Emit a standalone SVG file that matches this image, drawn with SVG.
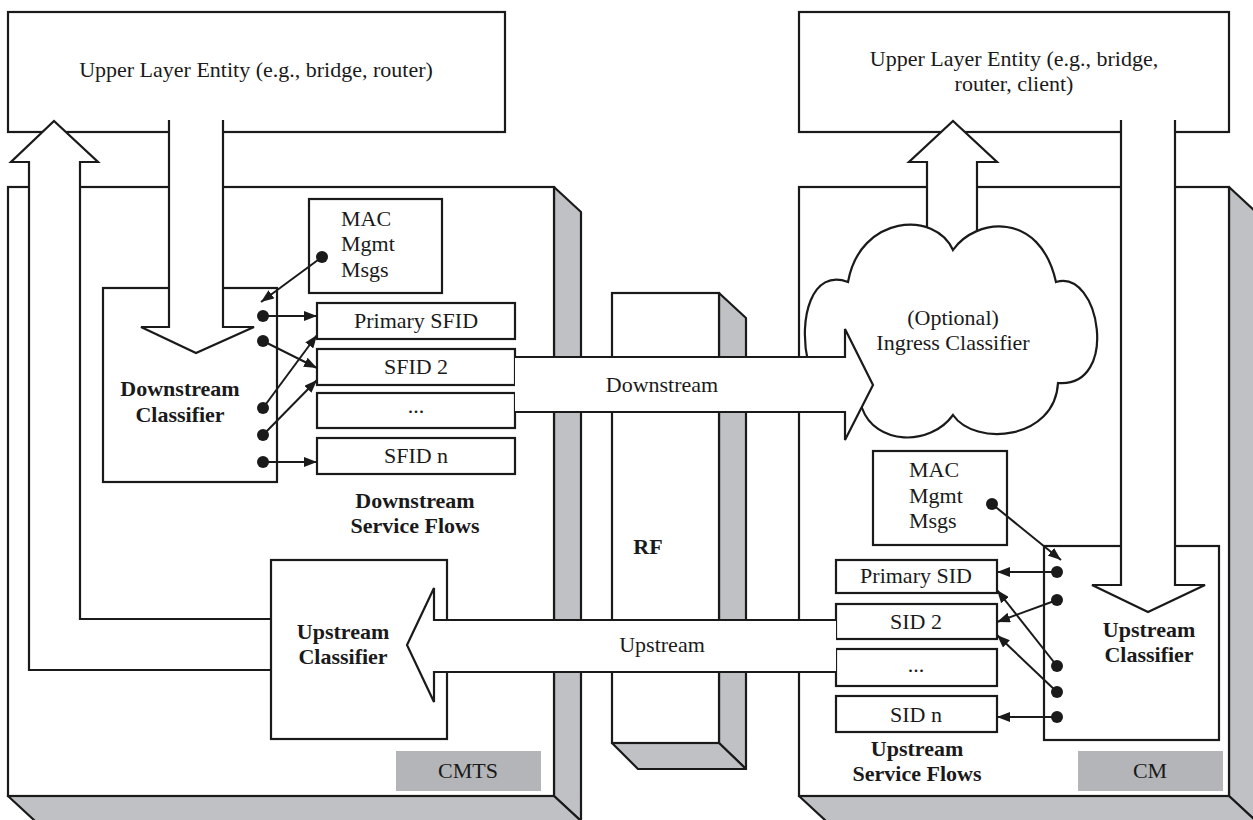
<svg xmlns="http://www.w3.org/2000/svg" width="1253" height="820" viewBox="0 0 1253 820">
<style>
.b{fill:#fff;stroke:#1a1a1a;stroke-width:2.2}
.s{fill:#c0c1c4;stroke:#1a1a1a;stroke-width:2.2;stroke-linejoin:round}
.lb{fill:#b4b5b9;stroke:none}
.ar{fill:#fff;stroke:#1a1a1a;stroke-width:2.2;stroke-linejoin:miter}
.ln{stroke:#1a1a1a;stroke-width:2;fill:none}
.dot{fill:#1a1a1a}
text{font-family:'Liberation Serif','Times New Roman',Times,serif;font-size:22px;fill:#1a1a1a}
.c{text-anchor:middle}
.bd{font-weight:bold}
</style>
<defs>
<marker id="ah" viewBox="0 0 13 10" refX="13" refY="5" markerWidth="13" markerHeight="10" markerUnits="userSpaceOnUse" orient="auto">
<path d="M0,0 L13,5 L0,10 z" fill="#1a1a1a"/>
</marker>
</defs>
<rect width="1253" height="820" fill="#fff"/>

<g id="ule-left"><rect class="b" x="8" y="12" width="497" height="120"/></g>
<g id="ule-right"><rect class="b" x="799" y="12" width="430" height="120"/></g>

<g id="cmts">
<polygon class="s" points="554,187 581,212 581,821 554,796"/>
<polygon class="s" points="8,796 554,796 581,821 35,821"/>
<rect class="b" x="8" y="187" width="546" height="609"/>
<rect class="lb" x="396" y="751" width="145" height="40"/>
</g>
<g id="cm">
<polygon class="s" points="1229,187 1256,212 1256,821 1229,796"/>
<polygon class="s" points="799,796 1229,796 1256,821 826,821"/>
<rect class="b" x="799" y="187" width="430" height="609"/>
<rect class="lb" x="1078" y="751" width="145" height="40"/>
</g>
<g id="rf">
<polygon class="s" points="719,293 746,318 746,769 719,743"/>
<polygon class="s" points="612,743 719,743 746,769 638,769"/>
<rect class="b" x="612" y="293" width="107" height="450"/>
</g>

<g id="mac-left"><rect class="b" x="309" y="199" width="133" height="94"/></g>
<g id="mac-right"><rect class="b" x="873" y="451" width="134" height="94"/></g>
<g id="ds-classifier"><rect class="b" x="103" y="288" width="174" height="194"/></g>
<g id="sfid-primary"><rect class="b" x="317" y="303" width="198" height="36"/></g>
<g id="sfid-2"><rect class="b" x="317" y="349" width="198" height="36"/></g>
<g id="sfid-dots"><rect class="b" x="317" y="393" width="198" height="35"/></g>
<g id="sfid-n"><rect class="b" x="317" y="438" width="198" height="36"/></g>
<g id="sid-primary"><rect class="b" x="836" y="560" width="161" height="33"/></g>
<g id="sid-2"><rect class="b" x="836" y="604" width="161" height="35"/></g>
<g id="sid-dots"><rect class="b" x="836" y="649" width="161" height="37"/></g>
<g id="sid-n"><rect class="b" x="836" y="696" width="161" height="36"/></g>

<g id="return-path">
<path class="ar" d="M271,670 L29,670 L29,162 L11,162 L54,121 L98,162 L80,162 L80,619 L271,619"/>
</g>
<g id="us-classifier-cmts"><rect class="b" x="271" y="560" width="176" height="179"/></g>
<g id="us-classifier-cm"><rect class="b" x="1044" y="546" width="175" height="194"/></g>

<g id="up-arrow-cm">
<path class="ar" d="M927,252 L927,162 L909,162 L953,121 L997,162 L977,162 L977,252"/>
</g>
<g id="ingress-classifier">
<path class="b" d="M953,250 C975,218 1040,210 1056,282 C1100,268 1120,388 1058,383 C1055,440 975,447 953,415 C930,447 875,445 862,408 C840,402 812,395 808,362 C798,318 812,268 848,282 C860,215 935,210 953,250 Z"/>
</g>
<g id="down-arrow-cmts">
<path class="ar" d="M169,120 L169,327 L141,327 L196,353 L254,327 L223,327 L223,120"/>
</g>
<g id="down-arrow-cm">
<path class="ar" d="M1121,120 L1121,585 L1092,585 L1148,612 L1205,585 L1175,585 L1175,120"/>
</g>
<g id="downstream-arrow">
<path class="ar" d="M515,357 L845,357 L845,329 L873,385 L845,440 L845,412 L515,412"/>
</g>
<g id="upstream-arrow">
<path class="ar" d="M836,620 L434,620 L434,588 L407,645 L434,702 L434,672 L836,672"/>
</g>

<g id="connectors">
<line class="ln" x1="322" y1="257" x2="261" y2="302" marker-end="url(#ah)"/>
<line class="ln" x1="263" y1="316" x2="317" y2="316" marker-end="url(#ah)"/>
<line class="ln" x1="263" y1="341" x2="317" y2="368" marker-end="url(#ah)"/>
<line class="ln" x1="263" y1="408" x2="317" y2="335" marker-end="url(#ah)"/>
<line class="ln" x1="263" y1="435" x2="317" y2="380" marker-end="url(#ah)"/>
<line class="ln" x1="263" y1="462" x2="317" y2="462" marker-end="url(#ah)"/>
<line class="ln" x1="992" y1="504" x2="1061" y2="560" marker-end="url(#ah)"/>
<line class="ln" x1="1057" y1="572" x2="997" y2="572" marker-end="url(#ah)"/>
<line class="ln" x1="1057" y1="600" x2="997" y2="622" marker-end="url(#ah)"/>
<line class="ln" x1="1057" y1="666" x2="997" y2="590" marker-end="url(#ah)"/>
<line class="ln" x1="1057" y1="692" x2="997" y2="635" marker-end="url(#ah)"/>
<line class="ln" x1="1057" y1="717" x2="997" y2="717" marker-end="url(#ah)"/>
<circle class="dot" cx="322" cy="257" r="6"/>
<circle class="dot" cx="263" cy="316" r="6"/>
<circle class="dot" cx="263" cy="341" r="6"/>
<circle class="dot" cx="263" cy="408" r="6"/>
<circle class="dot" cx="263" cy="435" r="6"/>
<circle class="dot" cx="263" cy="462" r="6"/>
<circle class="dot" cx="992" cy="504" r="6"/>
<circle class="dot" cx="1057" cy="572" r="6"/>
<circle class="dot" cx="1057" cy="600" r="6"/>
<circle class="dot" cx="1057" cy="666" r="6"/>
<circle class="dot" cx="1057" cy="692" r="6"/>
<circle class="dot" cx="1057" cy="717" r="6"/>
</g>

<g id="labels" font-family="Liberation Serif, Times New Roman, serif" font-size="22">
<text class="c" x="256" y="77">Upper Layer Entity (e.g., bridge, router)</text>
<text class="c" x="1014" y="66">Upper Layer Entity (e.g., bridge,</text>
<text class="c" x="1014" y="91">router, client)</text>
<text x="341" y="226">MAC</text>
<text x="341" y="251">Mgmt</text>
<text x="341" y="277">Msgs</text>
<text x="909" y="477">MAC</text>
<text x="909" y="503">Mgmt</text>
<text x="909" y="528">Msgs</text>
<text class="c bd" x="180" y="396">Downstream</text>
<text class="c bd" x="180" y="422">Classifier</text>
<text class="c" x="416" y="328">Primary SFID</text>
<text class="c" x="416" y="374">SFID 2</text>
<text class="c" x="416" y="413">...</text>
<text class="c" x="416" y="463">SFID n</text>
<text class="c bd" x="415" y="508">Downstream</text>
<text class="c bd" x="415" y="533">Service Flows</text>
<text class="c" x="662" y="392">Downstream</text>
<text class="c" x="662" y="652">Upstream</text>
<text class="c bd" x="648" y="554">RF</text>
<text class="c" x="953" y="325">(Optional)</text>
<text class="c" x="953" y="350">Ingress Classifier</text>
<text class="c bd" x="343" y="639">Upstream</text>
<text class="c bd" x="343" y="664">Classifier</text>
<text class="c bd" x="1149" y="637">Upstream</text>
<text class="c bd" x="1149" y="662">Classifier</text>
<text class="c" x="916" y="583">Primary SID</text>
<text class="c" x="916" y="629">SID 2</text>
<text class="c" x="916" y="672">...</text>
<text class="c" x="916" y="722">SID n</text>
<text class="c bd" x="917" y="756">Upstream</text>
<text class="c bd" x="917" y="781">Service Flows</text>
<text class="c" x="468" y="778">CMTS</text>
<text class="c" x="1150" y="778">CM</text>
</g>
</svg>
